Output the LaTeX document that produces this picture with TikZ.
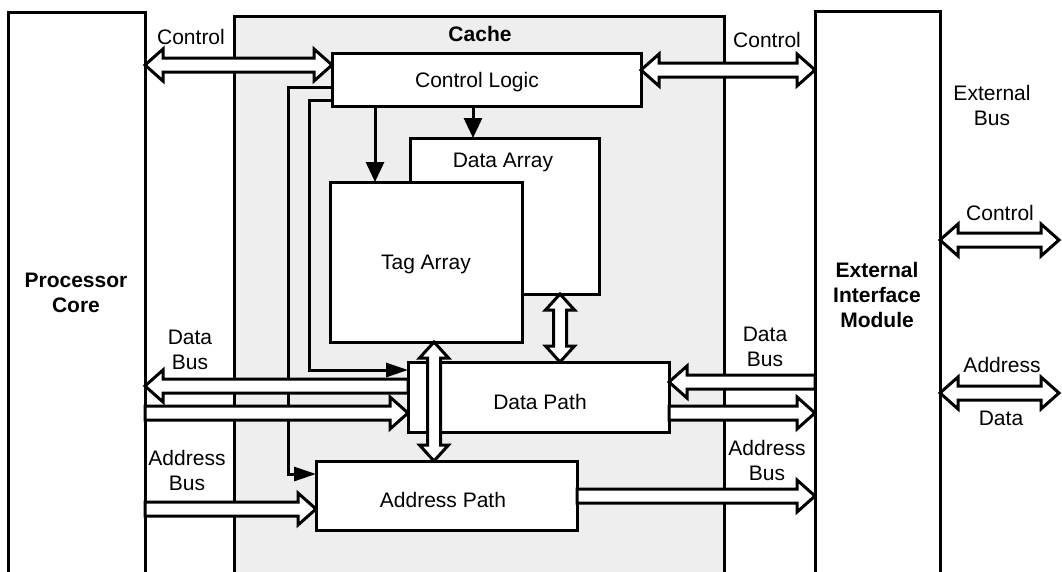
\documentclass[tikz,border=0pt]{standalone}
\usepackage{fontspec}
\setmainfont{Liberation Sans}
\usetikzlibrary{arrows.meta,calc}
\definecolor{cachegray}{HTML}{EEEEEE}
\newcommand\busHL{18pt}
\newcommand\busHH{16pt}
\newcommand\busSW{7pt}
\newcommand\vbHL{16pt}
\newcommand\vbHH{14.5pt}
\newcommand\vbSW{6.5pt}
% horizontal double-headed hollow bus, #1 left end, #2 right end
\newcommand\BusDH[2]{\path[bus] let \p1=(#1), \p2=(#2) in
  (\x1,\y1) -- (\x1+\busHL,\y1+\busHH) -- (\x1+\busHL,\y1+\busSW) -- (\x2-\busHL,\y1+\busSW)
  -- (\x2-\busHL,\y1+\busHH) -- (\x2,\y1) -- (\x2-\busHL,\y1-\busHH) -- (\x2-\busHL,\y1-\busSW)
  -- (\x1+\busHL,\y1-\busSW) -- (\x1+\busHL,\y1-\busHH) -- cycle;}
% single hollow bus, tail #1 on the left, tip #2 on the right
\newcommand\BusR[2]{\path[bus] let \p1=(#1), \p2=(#2) in
  (\x1,\y1+\busSW) -- (\x2-\busHL,\y1+\busSW) -- (\x2-\busHL,\y1+\busHH) -- (\x2,\y1)
  -- (\x2-\busHL,\y1-\busHH) -- (\x2-\busHL,\y1-\busSW) -- (\x1,\y1-\busSW) -- cycle;}
% single hollow bus, tail #1 on the right, tip #2 on the left
\newcommand\BusL[2]{\path[bus] let \p1=(#1), \p2=(#2) in
  (\x1,\y1+\busSW) -- (\x2+\busHL,\y1+\busSW) -- (\x2+\busHL,\y1+\busHH) -- (\x2,\y1)
  -- (\x2+\busHL,\y1-\busHH) -- (\x2+\busHL,\y1-\busSW) -- (\x1,\y1-\busSW) -- cycle;}
% vertical double-headed hollow bus, #1 top, #2 bottom
\newcommand\BusDV[2]{\path[bus] let \p1=(#1), \p2=(#2) in
  (\x1,\y1) -- (\x1+\vbHH,\y1-\vbHL) -- (\x1+\vbSW,\y1-\vbHL) -- (\x1+\vbSW,\y2+\vbHL)
  -- (\x1+\vbHH,\y2+\vbHL) -- (\x1,\y2) -- (\x1-\vbHH,\y2+\vbHL) -- (\x1-\vbSW,\y2+\vbHL)
  -- (\x1-\vbSW,\y1-\vbHL) -- (\x1-\vbHH,\y1-\vbHL) -- cycle;}
\begin{document}
\begin{tikzpicture}[x=1pt,y=-1pt,line join=miter,
  box/.style={draw,line width=3pt,fill=white,inner sep=0pt,outer sep=0pt,anchor=north west},
  bus/.style={draw,fill=white,line width=3pt,line join=miter},
  ctrl/.style={line width=3pt,-{Triangle[length=20pt,width=18pt]}},
  ctrlh/.style={line width=3pt,-{Triangle[length=22pt,width=14pt]}},
  lbl/.style={font=\fontsize{21}{25}\selectfont,align=center,inner sep=0pt},
  blbl/.style={font=\fontsize{21}{25}\selectfont\bfseries,align=center,inner sep=0pt}]
\useasboundingbox (0,0) rectangle (1062,571);
\clip (0,0) rectangle (1062,571);
% blocks
\node[box,fill=cachegray,minimum width=490pt,minimum height=600pt] (cache) at (234,16) {};
\node[box,minimum width=137pt,minimum height=600pt] (pc) at (8,12) {};
\node[box,minimum width=125pt,minimum height=600pt] (eim) at (815,11) {};
\node[box,minimum width=309pt,minimum height=53pt] (cl) at (332,53) {};
\node[box,minimum width=189pt,minimum height=156pt] (da) at (410,138) {};
\node[box,minimum width=192pt,minimum height=160pt] (tag) at (330,182) {};
\node[box,minimum width=261pt,minimum height=70pt] (dp) at (408,362) {};
\node[box,minimum width=261pt,minimum height=69pt] (ap) at (316,461) {};
% control lines
\draw[ctrl] (cl.south -| 375,0) -- (tag.north -| 375,0);
\draw[ctrl] (cl.south -| 473,0) -- (da.north -| 473,0);
\draw[ctrlh] (cl.west |- 0,87) -| (288,474) -- (ap.west |- 0,474);
\draw[ctrlh] (cl.west |- 0,100) -| (309,370) -- (dp.west |- 0,370);
% buses
\BusDH{pc.east |- 0,65}{cl.west |- 0,65}
\BusDH{cl.east |- 0,70}{eim.west |- 0,70}
\BusL{dp.west |- 0,386}{pc.east |- 0,386}
\BusR{pc.east |- 0,413}{dp.west |- 0,413}
\BusL{eim.west |- 0,382}{dp.east |- 0,382}
\BusR{dp.east |- 0,413}{eim.west |- 0,413}
\BusR{pc.east |- 0,509}{ap.west |- 0,509}
\BusR{ap.east |- 0,496}{eim.west |- 0,496}
\coordinate (xctl) at (1059,240);
\coordinate (xad) at (1059,393);
\BusDH{eim.east |- 0,240}{xctl}
\BusDH{eim.east |- 0,393}{xad}
\BusDV{tag.south -| 434,0}{ap.north -| 434,0}
\BusDV{da.south -| 560,0}{dp.north -| 560,0}
% labels
\node[blbl] (lcache) at (480,34) {Cache};
\node[lbl] (lctl1) at (191,37) {Control};
\node[lbl] (lctl2) at (767,40) {Control};
\node[lbl] (lcl) at (477,82) {Control Logic};
\node[lbl] (lda) at (503,162) {Data Array};
\node[lbl] (ltag) at (426,264) {Tag Array};
\node[lbl] (ldp) at (540,402) {Data Path};
\node[lbl] (lap) at (443,500) {Address Path};
\node[blbl] (lpc) at (76,293) {Processor\\Core};
\node[blbl] (leim) at (877,295) {External\\Interface\\Module};
\node[lbl] (ldb1) at (190,350) {Data\\Bus};
\node[lbl] (lab1) at (187,470) {Address\\Bus};
\node[lbl] (ldb2) at (765,347) {Data\\Bus};
\node[lbl] (lab2) at (767,460) {Address\\Bus};
\node[lbl] (lxb) at (992,105) {External\\Bus};
\node[lbl] (lxc) at (1000,213) {Control};
\node[lbl] (lxa) at (1002,365) {Address};
\node[lbl] (lxd) at (1001,418) {Data};
\end{tikzpicture}
\end{document}
